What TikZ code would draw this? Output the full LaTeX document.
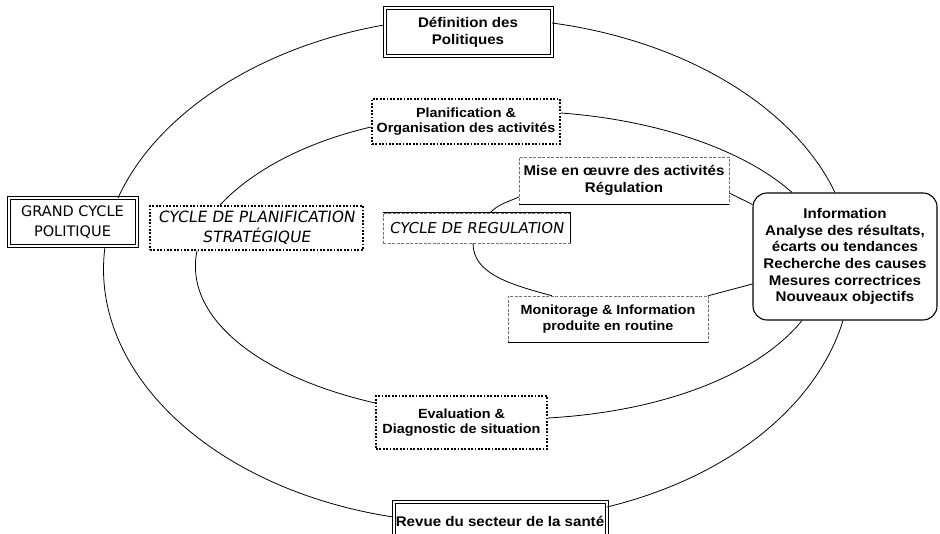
\documentclass[tikz,border=0pt]{standalone}
\usepackage{fontspec}
\setmainfont{Liberation Sans}[FakeStretch=1.08]
\newfontfamily\comicfont{DejaVu Sans}
\newfontfamily\comicslfont{DejaVu Sans}[FakeSlant=0.15]
\begin{document}
\begin{tikzpicture}[x=1pt,y=1pt,
  every node/.style={font=\bfseries\fontsize{14}{16.6}\selectfont, align=center, inner sep=0pt, fill=white},
  txtsmall/.style={font=\bfseries\fontsize{13.3}{15.5}\selectfont},
  dblbox/.style={draw, double, line width=1pt, double distance=2pt},
  dotbox/.style={draw, line width=1.8pt, dash pattern=on 1.8pt off 1.6pt},
  thinbox/.style={draw=black!55, line width=0.5pt, dash pattern=on 3pt off 1.5pt},
  infobox/.style={draw, rounded corners=14pt, line width=1.1pt},
  solidedge/.style={line width=0.7pt},
  link/.style={line width=0.8pt}
]
\useasboundingbox (0,0) rectangle (940,534);
\clip (0,0) rectangle (940,534);
\fill[white] (0,0) rectangle (940,534);

% outer cycle boxes
\node[dblbox, minimum width=167pt, minimum height=48pt] (def) at (468,501.5) {Définition des\\Politiques};
\node[dblbox, minimum width=128pt, minimum height=48pt, font=\comicfont\fontsize{14.5}{20}\selectfont] (grand) at (72.5,311.5) {GRAND CYCLE\\POLITIQUE};
\node[dblbox, minimum width=213pt, minimum height=38pt] (revue) at (500,13) {Revue du secteur de la santé};
\node[infobox, minimum width=184pt, minimum height=127pt] (info) at (845,277.5) {Information\\Analyse des résultats,\\écarts ou tendances\\Recherche des causes\\Mesures correctrices\\Nouveaux objectifs};

% middle cycle boxes
\node[dotbox, txtsmall, minimum width=188pt, minimum height=45pt] (planif) at (466,412.5) {Planification \&\\Organisation des activités};
\node[dotbox, minimum width=213pt, minimum height=44pt, font=\comicslfont\fontsize{15.5}{20}\selectfont] (cplan) at (256.5,306) {CYCLE DE PLANIFICATION\\STRATÉGIQUE};
\node[dotbox, txtsmall, minimum width=171pt, minimum height=53pt] (eval) at (461.5,111.5) {Evaluation \&\\Diagnostic de situation};

% inner cycle boxes
\node[thinbox, minimum width=210pt, minimum height=47pt] (mise) at (624,353.5) {Mise en œuvre des activités\\Régulation};
\node[thinbox, txtsmall, minimum width=200pt, minimum height=46pt] (monit) at (608,215) {Monitorage \& Information\\produite en routine};
\node[thinbox, minimum width=187pt, minimum height=30pt, font=\comicslfont\fontsize{15}{18}\selectfont] (creg) at (476.5,306) {CYCLE DE REGULATION};

\draw[solidedge] (mise.south west) -- (mise.south east);
\draw[solidedge] (monit.south west) -- (monit.south east);
\draw[solidedge] (creg.north west) -- (creg.north east) -- (creg.south east);

% outer cycle
\draw[link] ([yshift=7.5pt]def.west) to[out=190,in=65.5,out distance=128pt,in distance=92pt] ([xshift=45.5pt]grand.north);
\draw[link] ([xshift=32.5pt]grand.south) to[out=262.4,in=171.2,out distance=125pt,in distance=184pt] ([yshift=4pt]revue.west);
\draw[link] ([yshift=14pt]revue.east) to[out=13.7,in=252.9,out distance=126pt,in distance=89pt] ([xshift=-2pt]info.south);
\draw[link] ([xshift=-10pt]info.north) to[out=115.8,in=352.3,out distance=95.5pt,in distance=134pt] ([yshift=9.5pt]def.east);

% middle cycle
\draw[link] ([yshift=-5.5pt]planif.west) to[out=193.1,in=47.3,out distance=70pt,in distance=45pt] ([xshift=-36.5pt]cplan.north);
\draw[link] ([xshift=-59.5pt]cplan.south) to[out=258.2,in=167.1,out distance=65.4pt,in distance=124pt] ([yshift=19.5pt]eval.west);
\draw[link] ([yshift=4.5pt]eval.east) to[out=3.2,in=231,out distance=117.6pt,in distance=68pt] ([xshift=-43pt]info.south);
\draw[link] ([xshift=-53pt]info.north) to[out=138.4,in=355.7,out distance=63.4pt,in distance=98.6pt] ([yshift=8.5pt]planif.east);

% inner cycle
\draw[link] ([yshift=-16.5pt]mise.west) to[out=205,in=45] ([xshift=13.5pt]creg.north);
\draw[link] ([xshift=-3.5pt]creg.south) to[out=270,in=165,out distance=30pt,in distance=45pt] ([xshift=-56pt]monit.north);
\draw[link] (monit.north east) -- ([yshift=-27.5pt]info.west);
\draw[link] ([yshift=52pt]info.west) -- ([yshift=-12.5pt]mise.east);
\end{tikzpicture}
\end{document}
